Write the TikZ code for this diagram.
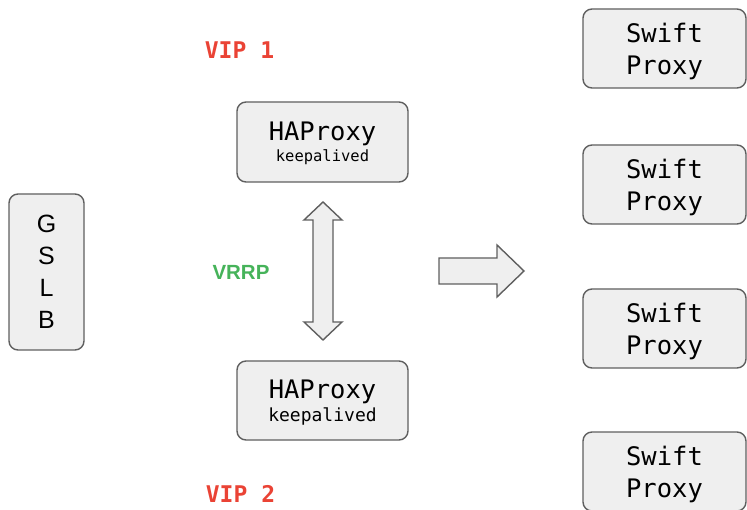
\documentclass[tikz,border=0pt]{standalone}
\usepackage{fontspec}
\setmainfont{Liberation Sans}
\setmonofont{DejaVu Sans Mono}
\definecolor{boxfill}{HTML}{EFEFEF}
\definecolor{boxline}{HTML}{5F5F5F}
\definecolor{vipred}{HTML}{EA4335}
\definecolor{vrrpgreen}{HTML}{46B35A}
\begin{document}
\begin{tikzpicture}[x=1pt, y=-1pt,
    box/.style={draw=boxline, fill=boxfill, line width=1.4pt, rounded corners=9pt, inner sep=0pt, align=center, text depth=0pt},
    blockarrow/.style={draw=boxline, fill=boxfill, line width=1.4pt, line join=miter},
    vip/.style={text=vipred, font=\ttfamily\bfseries\fontsize{23}{28}\selectfont}]
    \useasboundingbox (0,0) rectangle (747,510) ;

    % load balancer
    \node [box, minimum width=75pt, minimum height=156pt, font=\fontsize{25}{32}\selectfont] (gslb) at (46.5,272) {G\\S\\L\\B} ;

    % the two HAProxy nodes
    \node [vip] (vip1) at (239.5,50) {VIP 1} ;
    \node [box, minimum width=171pt, minimum height=80pt, font=\ttfamily\fontsize{25.5}{21}\selectfont] (haproxy1) at (322.5,142) {HAProxy\\{\fontsize{15.5}{21}\selectfont keepalived}} ;
    \node [box, minimum width=171pt, minimum height=79pt, font=\ttfamily\fontsize{25.5}{23}\selectfont] (haproxy2) at (322.5,400.5) {HAProxy\\{\fontsize{18}{23}\selectfont keepalived}} ;
    \node [vip] (vip2) at (240.5,494) {VIP 2} ;

    \node [text=vrrpgreen, font=\bfseries\fontsize{20.5}{24}\selectfont] (vrrp) at (241,272) {VRRP} ;
    \draw [blockarrow] (323,202) -- (342,220) -- (333,220) -- (333,322) -- (342,322) -- (323,340)
        -- (304,322) -- (313,322) -- (313,220) -- (304,220) -- cycle ;

    \draw [blockarrow] (439,258) -- (497,258) -- (497,245) -- (524,271) -- (497,297) -- (497,284) -- (439,284) -- cycle ;

    % swift proxies
    \foreach \y [count=\i] in {48.5,184.5,328.5,471.5}
        \node [box, minimum width=163pt, minimum height=79pt, font=\ttfamily\fontsize{25.5}{32}\selectfont] (swift\i) at (664.5,\y) {Swift\\Proxy} ;
\end{tikzpicture}
\end{document}
